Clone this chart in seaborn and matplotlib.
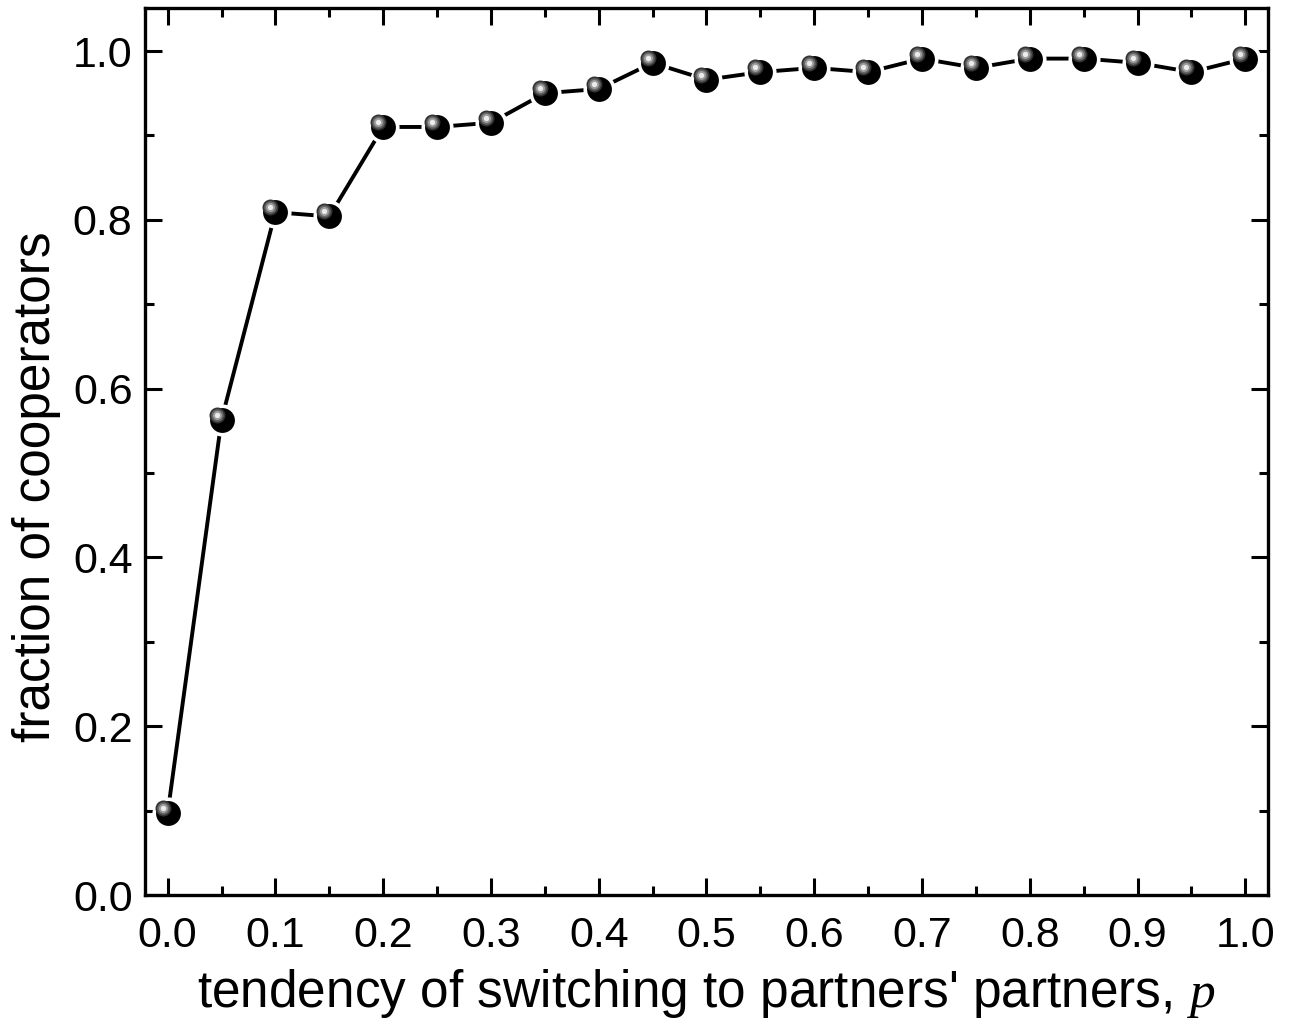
import numpy as np
import pandas as pd
import seaborn as sns
import matplotlib.pyplot as plt
import matplotlib.transforms as mtransforms
from matplotlib.ticker import MultipleLocator

# data
p_values = [0.0, 0.05, 0.1, 0.15, 0.2, 0.25, 0.3, 0.35, 0.4, 0.45, 0.5,
            0.55, 0.6, 0.65, 0.7, 0.75, 0.8, 0.85, 0.9, 0.95, 1.0]
frac_coop = [0.097, 0.563, 0.809, 0.804, 0.910, 0.910, 0.915, 0.950, 0.955, 0.986, 0.966,
             0.975, 0.980, 0.975, 0.991, 0.980, 0.991, 0.991, 0.986, 0.975, 0.991]
xticks = [0.0, 0.1, 0.2, 0.3, 0.4, 0.5, 0.6, 0.7, 0.8, 0.9, 1.0]
yticks = [0.0, 0.2, 0.4, 0.6, 0.8, 1.0]

df = pd.DataFrame({'p': p_values, 'frac': frac_coop})

sns.set_style('ticks')
plt.rcParams['font.family'] = ['Liberation Sans', 'DejaVu Sans']
plt.rcParams['mathtext.fontset'] = 'custom'
plt.rcParams['mathtext.it'] = 'Liberation Serif:italic'
plt.rcParams['mathtext.rm'] = 'Liberation Serif'
plt.rcParams['text.color'] = 'black'
plt.rcParams['axes.labelcolor'] = 'black'
plt.rcParams['xtick.color'] = 'black'
plt.rcParams['ytick.color'] = 'black'

fig = plt.figure(figsize=(12.97, 10.21), dpi=100)
ax = fig.add_axes([0.1118, 0.1234, 0.8658, 0.8688])

sns.lineplot(data=df, x='p', y='frac', ax=ax, color='black', linewidth=2.8,
             marker='o', markersize=20.5, markerfacecolor='black',
             markeredgecolor='white', markeredgewidth=2.6, zorder=3)

# shiny highlight on each ball
shift = mtransforms.offset_copy(ax.transData, fig=fig, x=-3.6, y=3.6, units='points')
for ms, c in [(11.5, '#333333'), (9, '#666666'), (6.5, '#9e9e9e'), (3.8, '#ececec')]:
    ax.plot(df['p'], df['frac'], linestyle='none', marker='o', markersize=ms,
            markerfacecolor=c, markeredgewidth=0, transform=shift, zorder=4)

ax.set_xlim(-0.021, 1.021)
ax.set_ylim(0.0, 1.051)
ax.set_xticks(xticks)
ax.set_yticks(yticks)
ax.set_xticklabels([f'{v:.1f}' for v in xticks])
ax.set_yticklabels([f'{v:.1f}' for v in yticks])
ax.xaxis.set_minor_locator(MultipleLocator(0.05))
ax.yaxis.set_minor_locator(MultipleLocator(0.1))

ax.tick_params(which='both', direction='in', top=True, right=True,
               width=2.2, labelsize=31, color='black', labelcolor='black')
ax.tick_params(which='major', length=12)
ax.tick_params(axis='x', which='major', pad=15)
ax.tick_params(axis='y', which='major', pad=9)
ax.tick_params(which='minor', length=6.5)
for s in ax.spines.values():
    s.set_linewidth(2.4)
    s.set_color('black')

ax.set_xlabel("tendency of switching to partners' partners, $p$", fontsize=37, labelpad=8)
ax.set_ylabel('fraction of cooperators', fontsize=37)
ax.yaxis.set_label_coords(-0.075, 0.46)

fig.savefig('out.png', dpi=100)
